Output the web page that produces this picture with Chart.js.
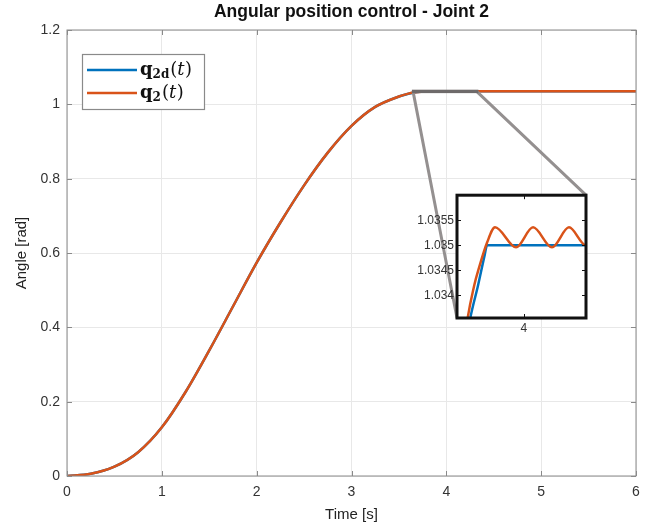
<!DOCTYPE html>
<html>
<head>
<meta charset="utf-8">
<script src="https://cdn.jsdelivr.net/npm/chart.js@4.4.1/dist/chart.umd.min.js"></script>
<style>
  html, body { margin: 0; padding: 0; background: #fff; }
  #wrap { position: relative; width: 655px; height: 525px; }
  #main { position: absolute; left: 0; top: 0; }
  #zoom { position: absolute; left: 400px; top: 185px; }
</style>
</head>
<body>
<div id="wrap">
  <canvas id="main" width="655" height="525"></canvas>
  <canvas id="zoom" width="192" height="160"></canvas>
</div>
<script>
// desired trajectory q2d(t)
const tRef = [0, 0.25, 0.5, 0.75, 1, 1.25, 1.5, 1.75, 2, 2.25, 2.5, 2.75, 3, 3.25, 3.5, 3.6, 3.65, 3.7, 3.718, 3.76, 3.795, 3.807, 4, 5, 6];
const qRef = [0, 0.006, 0.025, 0.064, 0.131, 0.226, 0.338, 0.456, 0.574, 0.682, 0.782, 0.870, 0.942, 0.993, 1.021, 1.0285, 1.0312, 1.0331, 1.03352, 1.0342, 1.03481, 1.035, 1.035, 1.035, 1.035];

// measured joint position q2(t)
const tReal = [0, 0.25, 0.5, 0.75, 1, 1.25, 1.5, 1.75, 2, 2.25, 2.5, 2.75, 3, 3.25, 3.5, 3.6, 3.65, 3.7, 3.74, 3.765, 3.807, 3.849, 3.959, 4.048, 4.147, 4.236, 4.325, 4.4, 5, 6];
const qReal = [0, 0.006, 0.025, 0.064, 0.131, 0.226, 0.338, 0.456, 0.574, 0.682, 0.782, 0.870, 0.942, 0.993, 1.021, 1.0288, 1.0316, 1.0334, 1.0342, 1.03455, 1.03505, 1.03536, 1.03496, 1.03536, 1.03496, 1.03536, 1.035, 1.035, 1.035, 1.035];

const xTicks = [0, 1, 2, 3, 4, 5, 6];
const yTicks = [0, 0.2, 0.4, 0.6, 0.8, 1, 1.2];

// zoom window
const zoomX = [3.65, 4.325];
const zoomY = [1.03355, 1.036];
const zoomXTicks = [4];
const zoomYTicks = [1.034, 1.0345, 1.035, 1.0355];

const titleText = "Angular position control - Joint 2";
const legendParts = [{ base: "q", sub: "2d" }, { base: "q", sub: "2" }];

const BLUE = "#0072BD";
const ORANGE = "#D95319";
const SANS = "'Liberation Sans', Arial, sans-serif";
const SERIF = "'DejaVu Serif', 'Liberation Serif', serif";

function pts(t, q) {
  return t.map((v, i) => ({ x: v, y: q[i] }));
}

function datasets() {
  return [
    { label: "q2d(t)", data: pts(tRef, qRef), borderColor: BLUE, borderWidth: 2.5, pointRadius: 0, cubicInterpolationMode: "monotone", order: 1 },
    { label: "q2(t)", data: pts(tReal, qReal), borderColor: ORANGE, borderWidth: 2.5, pointRadius: 0, cubicInterpolationMode: "monotone", order: 0 },
  ];
}

function setTicks(list) {
  return (scale) => { scale.ticks = list.map((v) => ({ value: v })); };
}

// box + inward tick marks, matlab style
const framePlugin = {
  id: "frame",
  beforeDraw(chart, args, opts) {
    if (!opts.fill) return;
    const a = chart.chartArea;
    chart.ctx.save();
    chart.ctx.fillStyle = opts.fill;
    chart.ctx.fillRect(a.left, a.top, a.width, a.height);
    chart.ctx.restore();
  },
  afterDraw(chart, args, opts) {
    const { ctx, chartArea: a, scales: { x, y } } = chart;
    const len = opts.tick;
    ctx.save();
    ctx.strokeStyle = opts.color;
    ctx.lineWidth = 1;
    ctx.beginPath();
    x.ticks.forEach((t) => {
      const px = Math.round(x.getPixelForValue(t.value)) + 0.5;
      ctx.moveTo(px, a.bottom); ctx.lineTo(px, a.bottom - len);
      ctx.moveTo(px, a.top); ctx.lineTo(px, a.top + len);
    });
    y.ticks.forEach((t) => {
      const py = Math.round(y.getPixelForValue(t.value)) + 0.5;
      ctx.moveTo(a.left, py); ctx.lineTo(a.left + len, py);
      ctx.moveTo(a.right, py); ctx.lineTo(a.right - len, py);
    });
    ctx.stroke();
    ctx.lineWidth = opts.width;
    ctx.strokeRect(a.left, a.top, a.width, a.height);
    if (opts.title) {
      ctx.fillStyle = "#111";
      ctx.font = "bold 17.5px " + SANS;
      ctx.textAlign = "center";
      ctx.textBaseline = "middle";
      ctx.fillText(opts.title, (a.left + a.right) / 2, 12);
    }
    ctx.restore();
  },
};

const zoomCanvas = document.getElementById("zoom");
const insetChart = new Chart(zoomCanvas, {
  type: "line",
  data: { datasets: datasets() },
  options: {
    responsive: false,
    animation: false,
    events: [],
    layout: { padding: { left: 0, right: 6, top: 9, bottom: 0 } },
    plugins: {
      legend: { display: false },
      tooltip: { enabled: false },
      frame: { color: "#111", width: 3, tick: 4, fill: "#fff" },
    },
    scales: {
      x: {
        type: "linear", min: zoomX[0], max: zoomX[1],
        afterBuildTicks: setTicks(zoomXTicks),
        afterFit: (s) => { s.height = 27; },
        ticks: { callback: (v) => String(v), font: { family: SANS, size: 12 }, color: "#333", padding: 3, maxRotation: 0, autoSkip: false },
        grid: { drawOnChartArea: false, drawTicks: false },
        border: { display: false },
      },
      y: {
        type: "linear", min: zoomY[0], max: zoomY[1],
        afterBuildTicks: setTicks(zoomYTicks),
        afterFit: (s) => { s.width = 57; },
        ticks: { callback: (v) => String(v), font: { family: SANS, size: 12 }, color: "#333", padding: 3, autoSkip: false },
        grid: { drawOnChartArea: false, drawTicks: false },
        border: { display: false },
      },
    },
  },
  plugins: [framePlugin],
});

// zoom rectangle and connector lines on the main axes
const zoomMarkPlugin = {
  id: "zoomMark",
  afterDatasetsDraw(chart) {
    const { ctx, scales: { x, y } } = chart;
    const x0 = x.getPixelForValue(zoomX[0]), x1 = x.getPixelForValue(zoomX[1]);
    const yTop = y.getPixelForValue(zoomY[1]), yBot = y.getPixelForValue(zoomY[0]);
    const ia = insetChart.chartArea;
    const ox = zoomCanvas.offsetLeft, oy = zoomCanvas.offsetTop;
    ctx.save();
    ctx.strokeStyle = "#949090";
    ctx.lineWidth = 3;
    ctx.beginPath();
    ctx.moveTo(x0, yBot); ctx.lineTo(ox + ia.left, oy + ia.bottom);
    ctx.moveTo(x1, yBot); ctx.lineTo(ox + ia.right, oy + ia.top);
    ctx.stroke();
    ctx.strokeStyle = "#6e6a6a";
    ctx.lineWidth = 2.5;
    ctx.strokeRect(x0, yTop, x1 - x0, yBot - yTop);
    ctx.restore();
  },
};

function drawLabel(ctx, x, y, part) {
  ctx.fillStyle = "#111";
  ctx.textBaseline = "alphabetic";
  ctx.font = "bold 18px " + SERIF;
  ctx.fillText(part.base, x, y);
  x += ctx.measureText(part.base).width;
  ctx.font = "bold 12px " + SERIF;
  ctx.fillText(part.sub, x, y + 3);
  x += ctx.measureText(part.sub).width + 1;
  ctx.font = "18px " + SERIF;
  ctx.fillText("(", x, y);
  x += ctx.measureText("(").width;
  ctx.font = "italic 18px " + SERIF;
  ctx.fillText("t", x, y);
  x += ctx.measureText("t").width + 0.5;
  ctx.font = "18px " + SERIF;
  ctx.fillText(")", x, y);
}

const legendPlugin = {
  id: "mathLegend",
  afterDraw(chart) {
    const { ctx, chartArea: a } = chart;
    const bx = a.left + 15, by = a.top + 24, bw = 122, bh = 55;
    ctx.save();
    ctx.fillStyle = "#fff";
    ctx.fillRect(bx, by, bw, bh);
    ctx.strokeStyle = "#8a8a8a";
    ctx.lineWidth = 1.2;
    ctx.strokeRect(bx + 0.5, by + 0.5, bw, bh);
    [0, 1].forEach((i, k) => {
      const ds = chart.data.datasets[i];
      const ly = by + 16 + k * 23;
      ctx.strokeStyle = ds.borderColor;
      ctx.lineWidth = 2.5;
      ctx.beginPath();
      ctx.moveTo(bx + 5, ly);
      ctx.lineTo(bx + 55, ly);
      ctx.stroke();
      drawLabel(ctx, bx + 58, ly + 5, legendParts[i]);
    });
    ctx.restore();
  },
};

new Chart(document.getElementById("main"), {
  type: "line",
  data: { datasets: datasets() },
  options: {
    responsive: false,
    animation: false,
    events: [],
    layout: { padding: { left: 0, right: 19, top: 30, bottom: 0 } },
    plugins: {
      legend: { display: false },
      tooltip: { enabled: false },
      frame: { color: "#8a8a8a", width: 1, tick: 5, title: titleText },
    },
    scales: {
      x: {
        type: "linear", min: 0, max: 6,
        afterBuildTicks: setTicks(xTicks),
        afterFit: (s) => { s.height = 49; },
        ticks: { callback: (v) => String(v), font: { family: SANS, size: 14 }, color: "#333", padding: 8, maxRotation: 0, autoSkip: false },
        grid: { color: "#e8e8e8", drawTicks: false },
        border: { display: false },
        title: { display: true, text: "Time [s]", color: "#222", font: { family: SANS, size: 15 }, padding: { top: 3, bottom: 1 } },
      },
      y: {
        type: "linear", min: 0, max: 1.2,
        afterBuildTicks: setTicks(yTicks),
        afterFit: (s) => { s.width = 67; },
        ticks: { callback: (v) => String(v), font: { family: SANS, size: 14 }, color: "#333", padding: 7, autoSkip: false },
        grid: { color: "#e8e8e8", drawTicks: false },
        border: { display: false },
        title: { display: true, text: "Angle [rad]", color: "#222", font: { family: SANS, size: 15 }, padding: { top: 13, bottom: 0 } },
      },
    },
  },
  plugins: [framePlugin, zoomMarkPlugin, legendPlugin],
});
</script>
</body>
</html>
